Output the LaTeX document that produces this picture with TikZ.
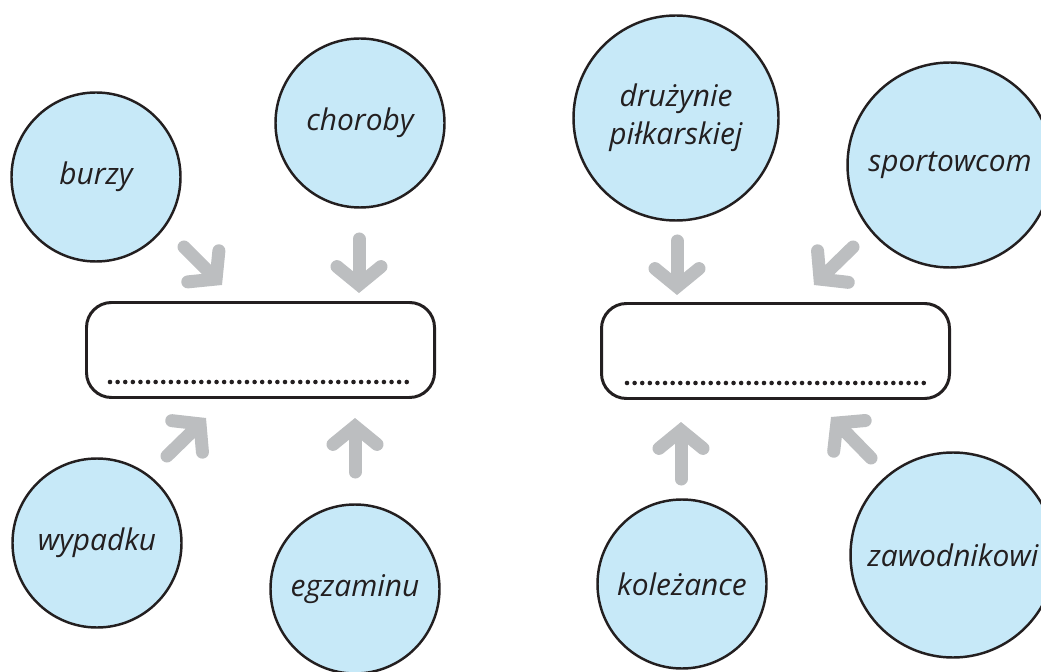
\documentclass[tikz,border=0pt]{standalone}
\usepackage{fontspec}
\setmainfont{Open Sans}
\usetikzlibrary{arrows.meta}
\definecolor{niebieski}{HTML}{C7E9F8}
\definecolor{szary}{HTML}{BCBEC0}
\definecolor{tusz}{HTML}{231F20}
\begin{document}
\begin{tikzpicture}[
        kolo/.style={circle, draw=tusz, line width=1.4pt, fill=niebieski,
                     minimum size=3.38cm, inner sep=0pt, align=center, text=tusz,
                     font=\fontsize{17}{21.5}\selectfont\itshape},
        duze/.style={kolo, minimum size=4.10cm},
        ramka/.style={draw=tusz, line width=1.7pt, rounded corners=0.5cm,
                      minimum width=6.96cm, minimum height=1.90cm},
        kropki/.style={tusz, line width=2.6pt, line cap=round,
                       dash pattern=on 0pt off 4.33pt},
        strz/.style={szary, line width=7.4pt, line cap=round,
                     -{Straight Barb[length=0.36cm, width=0.88cm, line join=miter, line cap=round]}},
    ]
        \useasboundingbox (0,0) rectangle (20.82,13.42);
        \clip (0,0) rectangle (20.82,13.42);
        % koła po lewej
        \node[kolo] (burzy)    at (1.92,9.88)  {burzy};
        \node[kolo] (choroby)  at (7.20,10.96) {choroby};
        \node[kolo] (wypadku)  at (1.94,2.56)  {wypadku};
        \node[kolo] (egzaminu) at (7.10,1.64)  {egzaminu};
        % koła po prawej
        \node[duze] (druzynie)    at (13.52,11.06) {drużynie\\piłkarskiej};
        \node[duze] (sportowcom)  at (19.00,10.12) {sportowcom};
        \node[kolo] (kolezance)   at (13.64,1.74)  {koleżance};
        \node[duze] (zawodnikowi) at (19.06,2.32)  {zawodnikowi};
        % ramki z kropkami
        \node[ramka] (lewa)  at (5.21,6.42)  {};
        \node[ramka] (prawa) at (15.51,6.40) {};
        \draw[kropki] ([xshift=0.5cm,yshift=0.34cm]lewa.south west)
            -- ([xshift=-0.52cm,yshift=0.34cm]lewa.south east);
        \draw[kropki] ([xshift=0.54cm,yshift=0.34cm]prawa.south west)
            -- ([xshift=-0.52cm,yshift=0.34cm]prawa.south east);
        % strzałki
        \coordinate (burzy-od)       at (3.68,8.48);
        \coordinate (burzy-do)       at (4.44,7.72);
        \coordinate (choroby-od)     at (7.18,8.64);
        \coordinate (choroby-do)     at (7.18,7.56);
        \coordinate (wypadku-od)     at (3.34,4.30);
        \coordinate (wypadku-do)     at (4.12,5.06);
        \coordinate (egzaminu-od)    at (7.10,3.98);
        \coordinate (egzaminu-do)    at (7.10,5.06);
        \coordinate (druzynie-od)    at (13.54,8.60);
        \coordinate (druzynie-do)    at (13.54,7.52);
        \coordinate (sportowcom-od)  at (17.06,8.48);
        \coordinate (sportowcom-do)  at (16.28,7.72);
        \coordinate (kolezance-od)   at (13.62,3.84);
        \coordinate (kolezance-do)   at (13.62,4.98);
        \coordinate (zawodnikowi-od) at (17.42,4.26);
        \coordinate (zawodnikowi-do) at (16.62,5.08);
        \draw[strz] (burzy-od) -- (burzy-do);
        \draw[strz] (choroby-od) -- (choroby-do);
        \draw[strz] (wypadku-od) -- (wypadku-do);
        \draw[strz] (egzaminu-od) -- (egzaminu-do);
        \draw[strz] (druzynie-od) -- (druzynie-do);
        \draw[strz] (sportowcom-od) -- (sportowcom-do);
        \draw[strz] (kolezance-od) -- (kolezance-do);
        \draw[strz] (zawodnikowi-od) -- (zawodnikowi-do);
    \end{tikzpicture}
\end{document}
